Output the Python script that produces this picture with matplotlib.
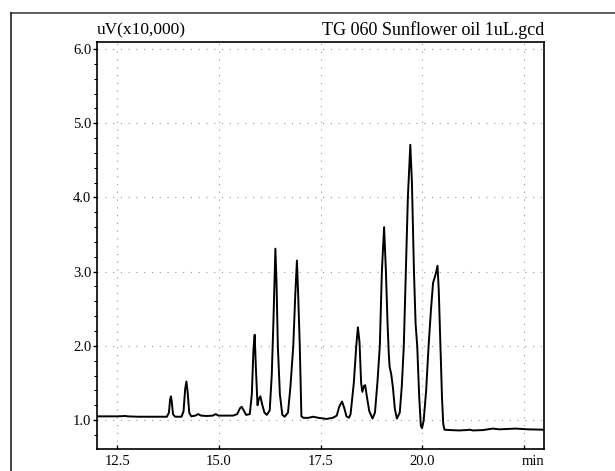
import matplotlib
matplotlib.use('Agg')
import matplotlib.pyplot as plt
import matplotlib.transforms as mtransforms
from matplotlib.lines import Line2D
from matplotlib.ticker import MultipleLocator

plt.rcParams['font.family'] = ['Liberation Serif', 'DejaVu Serif']

# chromatogram trace (min, uV x10,000)
time_min = [
    12.00, 12.50, 12.70, 12.75, 13.00, 13.50, 13.72, 13.77, 13.80, 13.82,
    13.84, 13.87, 13.92, 14.08, 14.13, 14.17, 14.20, 14.23, 14.27, 14.32,
    14.42, 14.49, 14.56, 14.70, 14.85, 14.92, 14.99, 15.35, 15.45, 15.52,
    15.56, 15.60, 15.67, 15.76, 15.81, 15.85, 15.88, 15.91, 15.95, 15.98,
    16.02, 16.06, 16.12, 16.18, 16.25, 16.30, 16.34, 16.39, 16.42, 16.45,
    16.50, 16.56, 16.62, 16.70, 16.76, 16.83, 16.88, 16.92, 16.95, 16.99,
    17.03, 17.08, 17.20, 17.32, 17.45, 17.65, 17.80, 17.90, 17.96, 18.03,
    18.08, 18.14, 18.20, 18.24, 18.32, 18.38, 18.42, 18.46, 18.50, 18.53,
    18.57, 18.60, 18.64, 18.70, 18.78, 18.84, 18.90, 18.96, 19.01, 19.065,
    19.11, 19.15, 19.18, 19.20, 19.24, 19.28, 19.33, 19.38, 19.45, 19.50,
    19.55, 19.60, 19.65, 19.71, 19.75, 19.80, 19.84, 19.88, 19.93, 19.97,
    20.00, 20.04, 20.10, 20.16, 20.22, 20.27, 20.31, 20.34, 20.38, 20.41,
    20.45, 20.49, 20.52, 20.55, 20.70, 20.90, 21.10, 21.17, 21.25, 21.50,
    21.74, 21.90, 22.30, 22.60, 23.00,
]
signal = [
    1.050, 1.050, 1.055, 1.050, 1.045, 1.045, 1.045, 1.10, 1.28, 1.32,
    1.25, 1.08, 1.045, 1.045, 1.12, 1.42, 1.52, 1.38, 1.10, 1.05,
    1.06, 1.08, 1.06, 1.055, 1.06, 1.08, 1.06, 1.06, 1.08, 1.16,
    1.18, 1.14, 1.07, 1.08, 1.35, 1.95, 2.15, 1.70, 1.20, 1.28,
    1.32, 1.22, 1.10, 1.07, 1.13, 1.60, 2.30, 3.31, 2.80, 2.00,
    1.35, 1.07, 1.045, 1.10, 1.45, 2.00, 2.70, 3.15, 2.70, 2.00,
    1.05, 1.03, 1.03, 1.045, 1.03, 1.015, 1.03, 1.06, 1.18, 1.25,
    1.17, 1.05, 1.03, 1.08, 1.50, 2.00, 2.25, 2.05, 1.50, 1.38,
    1.46, 1.47, 1.32, 1.12, 1.02, 1.10, 1.50, 2.00, 3.00, 3.60,
    3.00, 2.30, 1.90, 1.72, 1.62, 1.45, 1.15, 1.02, 1.10, 1.45,
    2.00, 3.00, 4.00, 4.71, 4.20, 3.00, 2.30, 2.00, 1.30, 0.92,
    0.89, 1.00, 1.40, 2.00, 2.50, 2.85, 2.92, 2.98, 3.08, 2.75,
    2.00, 1.30, 0.95, 0.87, 0.865, 0.86, 0.865, 0.87, 0.86, 0.865,
    0.885, 0.875, 0.885, 0.875, 0.87,
]

x_ticks = [12.5, 15.0, 17.5, 20.0, 22.5]
x_labels = ['12.5', '15.0', '17.5', '20.0', '']
y_ticks = [1.0, 2.0, 3.0, 4.0, 5.0, 6.0]
y_labels = ['1.0', '2.0', '3.0', '4.0', '5.0', '6.0']

fig = plt.figure(figsize=(6.15, 4.71), dpi=100)
ax = fig.add_axes([97 / 615, 22 / 471, 447 / 615, 407 / 471])

ax.plot(time_min, signal, color='black', lw=1.4)

ax.set_xlim(12.0, 23.0)
ax.set_ylim(0.61, 6.095)
ax.set_xticks(x_ticks)
ax.set_xticklabels(x_labels)
ax.set_yticks(y_ticks)
ax.set_yticklabels(y_labels)
ax.yaxis.set_minor_locator(MultipleLocator(0.2))
ax.tick_params(axis='y', which='major', direction='out', length=3, width=1, pad=1, labelsize=10.5)
ax.tick_params(axis='y', which='minor', direction='out', length=2, width=0.8)
ax.tick_params(axis='x', which='major', direction='in', length=3, width=1, pad=4, labelsize=10.5)
ax.grid(True, color='#999999', linestyle=(0, (1, 6)), lw=0.8)
for sp in ax.spines.values():
    sp.set_linewidth(1.2)

ax.text(0.0, 1.008, 'uV(x10,000)', transform=ax.transAxes, ha='left', va='bottom', fontsize=12.5)
ax.text(1.0, 1.008, 'TG 060 Sunflower oil 1uL.gcd', transform=ax.transAxes, ha='right', va='bottom', fontsize=13)
min_tr = ax.transAxes + mtransforms.ScaledTranslation(0, -4 / 72, fig.dpi_scale_trans)
ax.text(1.0, 0.0, 'min', transform=min_tr, ha='right', va='top', fontsize=10.5)

# outer frame of the printout
fig.add_artist(Line2D([11 / 615, 1.0], [1 - 13 / 471, 1 - 13 / 471], color='#444444', lw=1.2))
fig.add_artist(Line2D([11 / 615, 11 / 615], [0.0, 1 - 13 / 471], color='#222222', lw=1.2))

fig.savefig('out.png', dpi=100)
